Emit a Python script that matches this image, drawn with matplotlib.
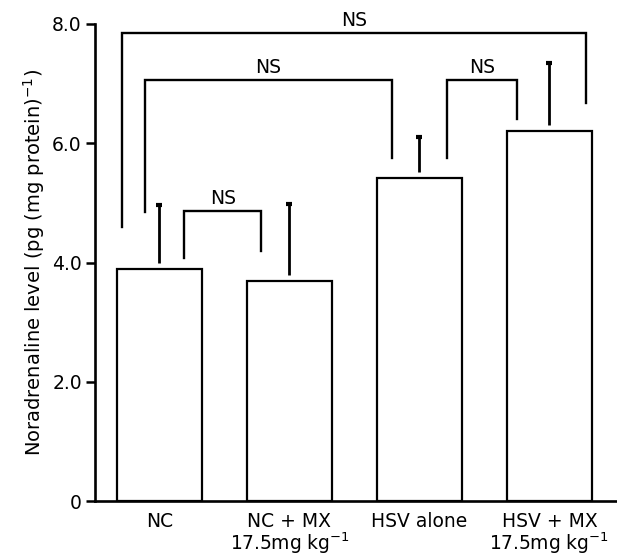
import matplotlib.pyplot as plt
import numpy as np

plt.rcParams['font.family'] = ['DejaVu Sans']
plt.rcParams['mathtext.default'] = 'regular'

# data
categories = ["NC", "NC + MX\n17.5mg kg$^{-1}$", "HSV alone", "HSV + MX\n17.5mg kg$^{-1}$"]
means = [3.90, 3.69, 5.41, 6.21]
errors = [1.07, 1.29, 0.69, 1.13]

# significance brackets: (left x, right x, top, left leg bottom, right leg bottom)
bracket_x = [(-0.286, 3.278), (-0.114, 1.791), (0.191, 0.781), (2.209, 2.748)]
bracket_top = [7.85, 7.06, 4.87, 7.06]
bracket_legs = [(4.60, 6.67), (4.85, 5.76), (4.07, 4.20), (5.76, 6.41)]
bracket_labels = ["NS", "NS", "NS", "NS"]

fig = plt.figure(figsize=(6.17, 5.58), dpi=100)
ax = fig.add_axes([0.154, 0.102, 0.844, 0.855])

x = np.arange(len(categories))
ax.bar(x, means, width=0.66, color="white", edgecolor="black", linewidth=1.6, zorder=2)

# upper error bars only, starting a little above the bar top
gap = 0.1
ax.vlines(x, np.array(means) + gap, np.array(means) + np.array(errors),
          color="black", linewidth=2.0, zorder=3)
ax.plot(x, np.array(means) + np.array(errors), linestyle="none", marker="_",
        markersize=5, markeredgewidth=3, color="black", zorder=3)

for (xl, xr), top, (bl, br), lab in zip(bracket_x, bracket_top, bracket_legs, bracket_labels):
    ax.plot([xl, xl, xr, xr], [bl, top, top, br], color="black", linewidth=1.7,
            solid_joinstyle="miter", clip_on=False, zorder=3)
    ax.text((xl + xr) / 2, top + 0.05, lab, ha="center", va="bottom", fontsize=13.5)

ax.set_xlim(-0.496, 3.51)
ax.set_ylim(0, 8)
ax.set_yticks([0, 2, 4, 6, 8])
ax.set_yticklabels(["0", "2.0", "4.0", "6.0", "8.0"], fontsize=13.5)
ax.set_xticks(x)
ax.set_xticklabels(categories, fontsize=13.5, linespacing=0.95)
ax.tick_params(axis="x", length=0, pad=8)
ax.tick_params(axis="y", length=6.5, width=1.8, pad=3)
ax.set_ylabel("Noradrenaline level (pg (mg protein)$^{-1}$)", fontsize=14, labelpad=4)

ax.spines["top"].set_visible(False)
ax.spines["right"].set_visible(False)
ax.spines["left"].set_linewidth(1.9)
ax.spines["bottom"].set_linewidth(1.9)

fig.savefig("out.png", dpi=100)
